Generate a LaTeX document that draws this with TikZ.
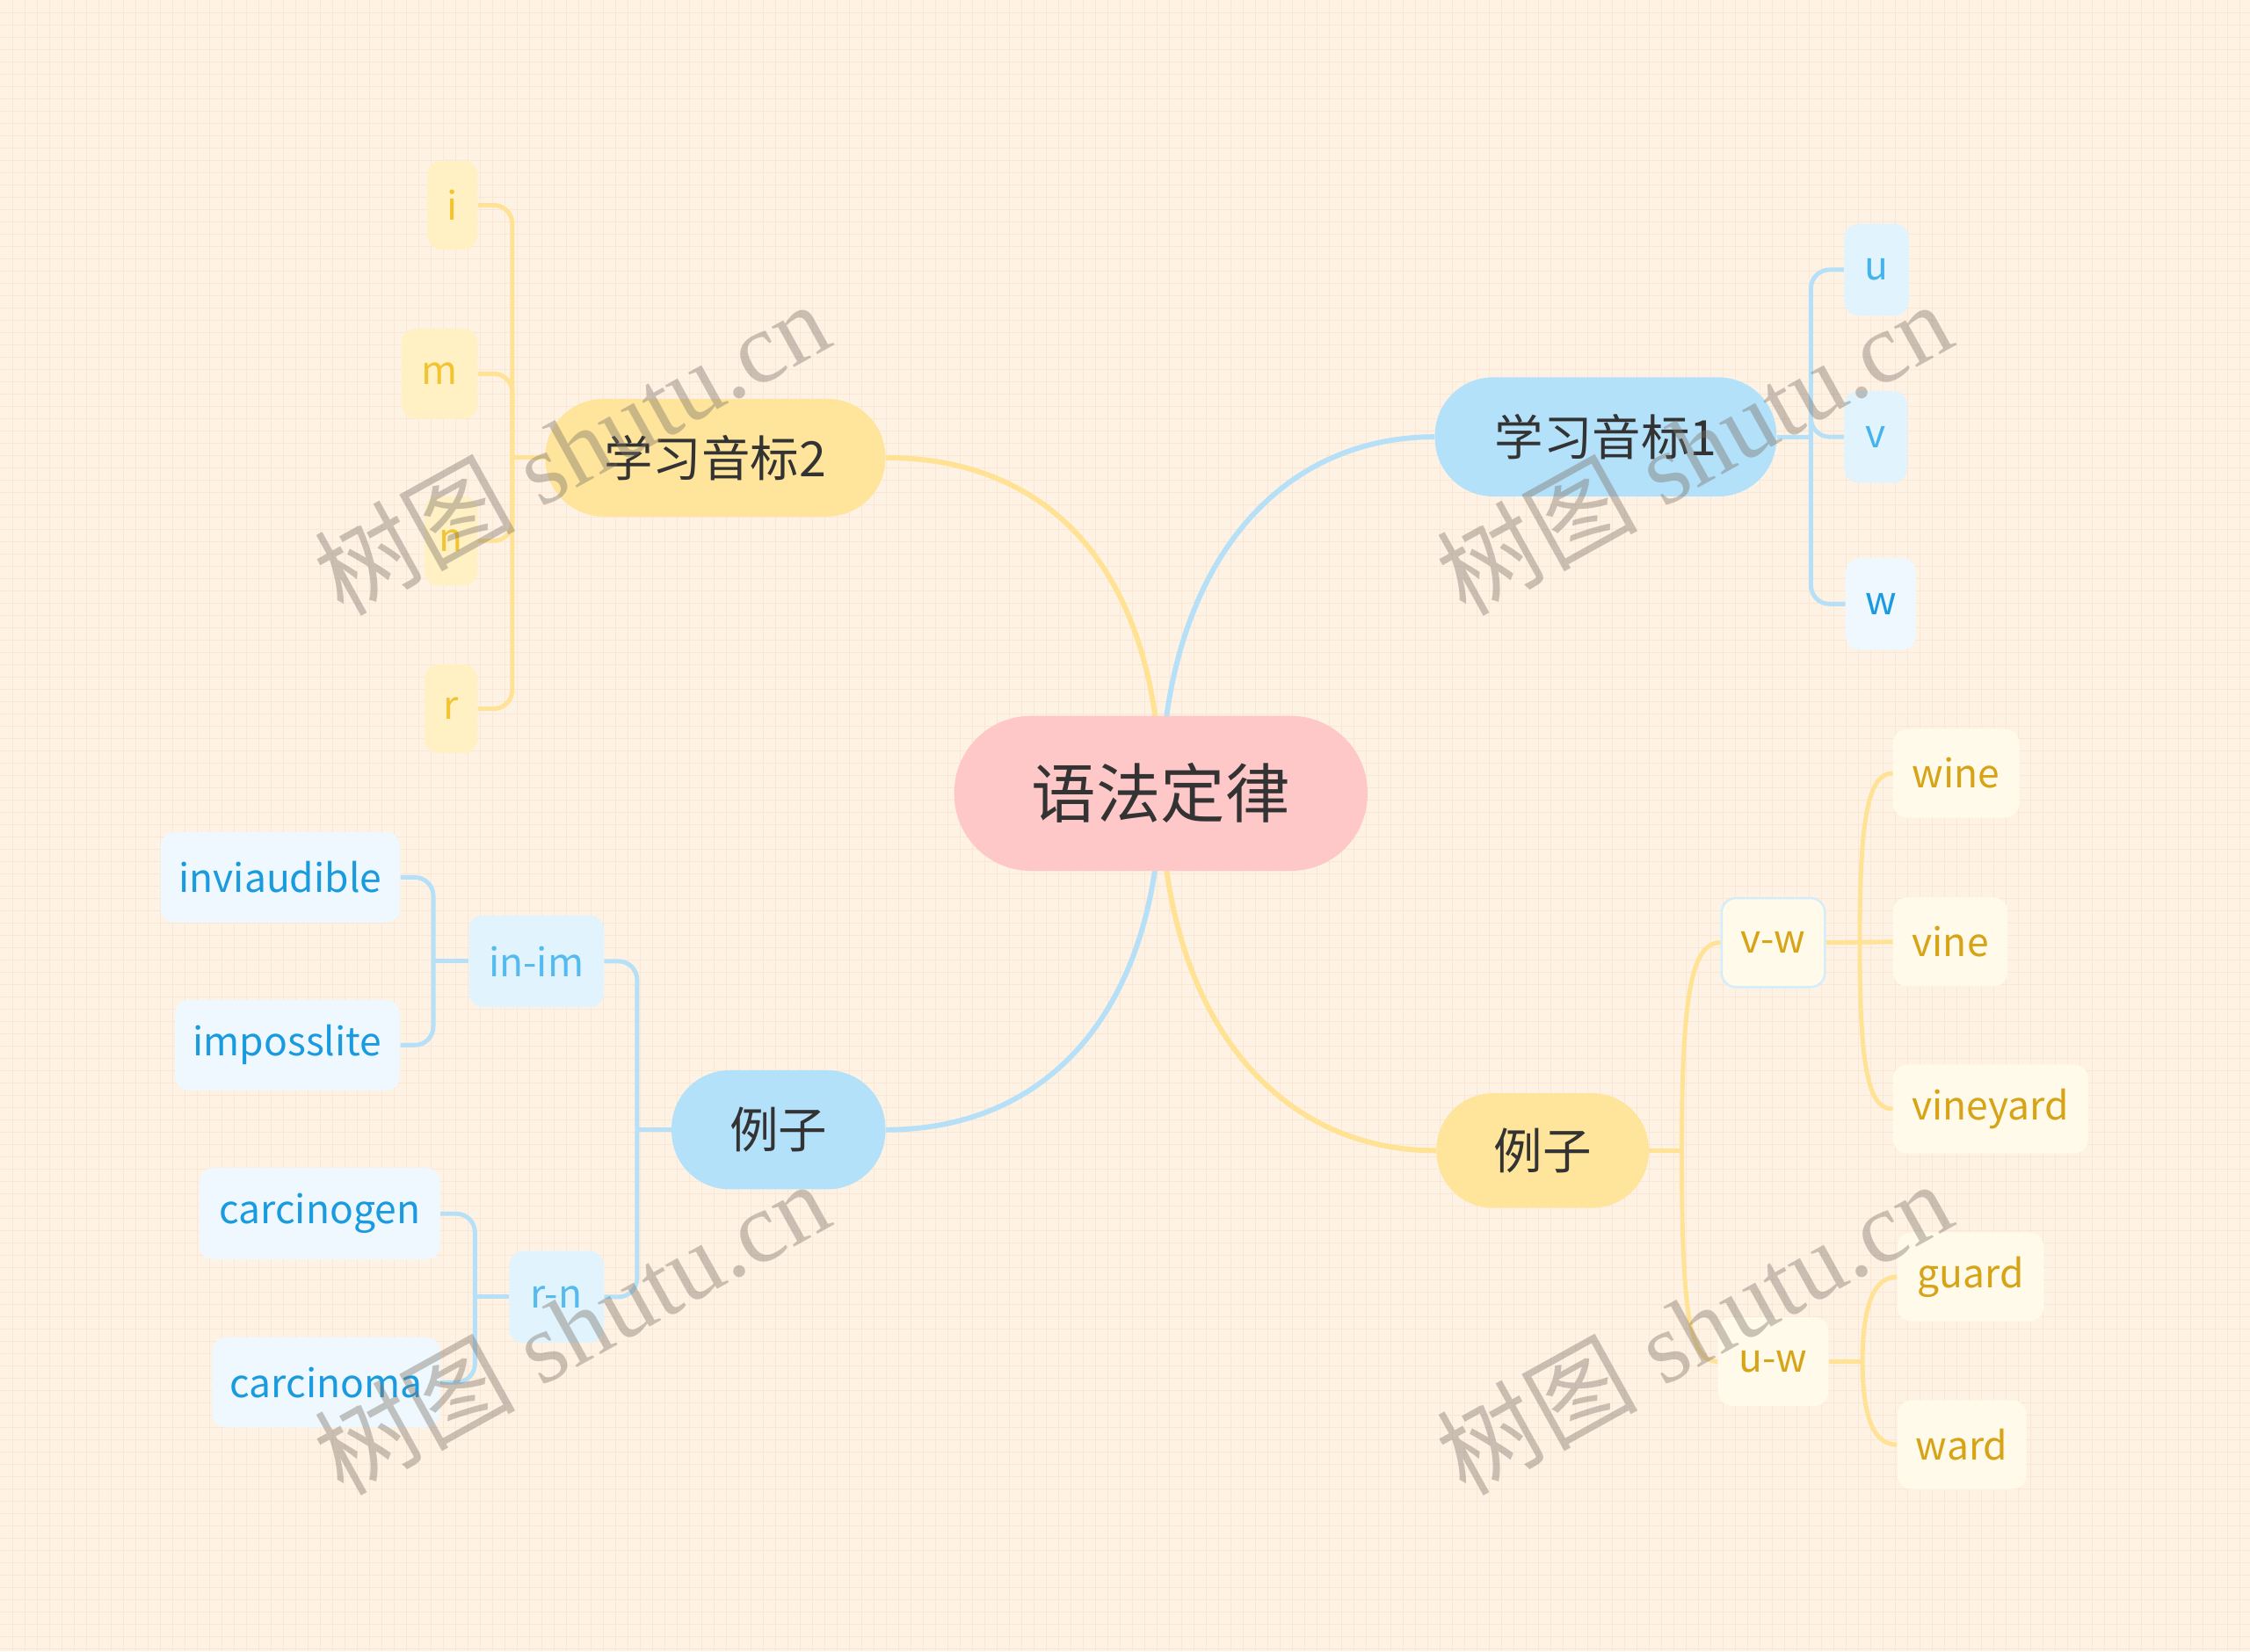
\documentclass[tikz,border=0pt]{standalone}
\usepackage{fontspec}
\setmainfont{Noto Sans CJK SC}
\newfontfamily\wmfont{Liberation Serif}
\newfontfamily\cjkfont{Noto Sans CJK SC}
\definecolor{bgc}{HTML}{FEF2E4}
\definecolor{gridc}{HTML}{F9E6D3}
\definecolor{pinkc}{HTML}{FFC8C8}
\definecolor{yelc}{HTML}{FFE59C}
\definecolor{bluec}{HTML}{B3E1FA}
\definecolor{yline}{HTML}{FFE294}
\definecolor{bline}{HTML}{B5E0F7}
\definecolor{ytxtA}{HTML}{F3C431}
\definecolor{yboxA}{HTML}{FFF1C4}
\definecolor{ytxtB}{HTML}{D6A416}
\definecolor{yboxB}{HTML}{FFFAEA}
\definecolor{btxtA}{HTML}{45B3EC}
\definecolor{bboxA}{HTML}{E1F3FD}
\definecolor{btxtB}{HTML}{1A9BE0}
\definecolor{bboxB}{HTML}{EEF8FE}
\definecolor{btxtC}{HTML}{55BBEE}
\definecolor{vwborder}{HTML}{D3EDFB}
\definecolor{darktxt}{HTML}{333333}
\definecolor{wmc}{HTML}{7A7066}
\pgfdeclarelayer{bg}
\pgfdeclarelayer{edges}
\pgfdeclarelayer{top}
\pgfsetlayers{bg,edges,main,top}
\begin{document}
\begin{tikzpicture}[x=1pt,y=-1pt,
  centralnode/.style={fill=pinkc, rounded corners=53.5pt, minimum width=288pt, minimum height=108pt, inner sep=0pt, text=darktxt, font=\fontsize{45}{54}\selectfont},
  mainnode/.style={rounded corners=40.5pt, minimum height=82pt, inner sep=0pt, text=darktxt, font=\fontsize{34}{40}\selectfont},
  leaf/.style={rounded corners=10pt, minimum height=63pt, inner sep=0pt, font=\fontsize{27.2}{33}\selectfont},
  yleafA/.style={leaf, fill=yboxA, text=ytxtA},
  yleafB/.style={leaf, fill=yboxB, text=ytxtB},
  bleafA/.style={leaf, fill=bboxA, text=btxtA},
  bleafB/.style={leaf, fill=bboxB, text=btxtB},
  bleafC/.style={leaf, fill=bboxA, text=btxtC},
  mainline/.style={line width=3.6pt},
  subline/.style={line width=3pt, rounded corners=13pt},
  curveline/.style={line width=3pt},
  watermark/.style={rotate=29, text=wmc, opacity=0.4, font=\wmfont\fontsize{70}{80}\selectfont}
]
\useasboundingbox (0,0) rectangle (1568,1151);
\begin{pgfonlayer}{bg}
  \fill[bgc] (0,0) rectangle (1568,1151);
  \foreach \i in {1,...,182} \draw[gridc, line width=0.55pt] (\i*8.575,0) -- (\i*8.575,1151);
  \foreach \j in {1,...,134} \draw[gridc, line width=0.55pt] (0,\j*8.575) -- (1568,\j*8.575);
\end{pgfonlayer}

% central and main topics
\node[centralnode] (C) at (809,553) {语法定律};
\node[mainnode, fill=yelc, minimum width=237pt] (T2) at (498.5,319) {学习音标2};
\node[mainnode, fill=bluec, minimum width=238pt, minimum height=83pt] (T1) at (1119,304.5) {学习音标1};
\node[mainnode, fill=bluec, minimum width=149pt, minimum height=83pt] (L1) at (542.5,787.5) {例子};
\node[mainnode, fill=yelc, minimum width=148pt, minimum height=80pt, rounded corners=39.5pt] (R1) at (1075,802) {例子};

% children of 学习音标2
\node[yleafA, anchor=east, minimum width=35pt, minimum height=62pt] (ni) at (333,143) {i};
\node[yleafA, anchor=east, minimum width=53pt] (nm) at (333,260.5) {m};
\node[yleafA, anchor=east, minimum width=37pt, minimum height=62pt] (nn) at (333,377) {n};
\node[yleafA, anchor=east, minimum width=37pt, minimum height=62pt] (nr) at (333,494) {r};

% children of 学习音标1
\node[bleafA, anchor=west, minimum width=45pt, minimum height=64pt] (nu) at (1285,188) {u};
\node[bleafA, anchor=west, minimum width=44pt, minimum height=64pt] (nv) at (1285,304.5) {v};
\node[bleafB, anchor=west, minimum width=49pt, minimum height=64pt, text=btxtB] (nw) at (1286,421) {w};

% left 例子
\node[bleafC, anchor=east, minimum width=94pt, minimum height=64pt] (inim) at (421,670) {in-im};
\node[bleafC, anchor=east, minimum width=66pt, minimum height=64pt] (rn) at (421,904) {r-n};
\node[bleafB, anchor=east, minimum width=167pt] (inv) at (279,611.5) {inviaudible};
\node[bleafB, anchor=east, minimum width=157pt] (imp) at (279,728.5) {imposslite};
\node[bleafB, anchor=east, minimum width=168pt, minimum height=64pt] (cgen) at (307,846) {carcinogen};
\node[bleafB, anchor=east, minimum width=159pt] (cnoma) at (307,963.5) {carcinoma};

% right 例子
\node[yleafB, anchor=west, minimum width=72pt, minimum height=62pt, draw=vwborder, line width=1.5pt] (vw) at (1199,657) {v-w};
\node[yleafB, anchor=west, minimum width=77pt, minimum height=62pt] (uw) at (1197,949) {u-w};
\node[yleafB, anchor=west, minimum width=88pt, minimum height=62pt] (wine) at (1319,539) {wine};
\node[yleafB, anchor=west, minimum width=80pt, minimum height=62pt] (vine) at (1319,656.5) {vine};
\node[yleafB, anchor=west, minimum width=136pt, minimum height=62pt] (vyard) at (1319,773) {vineyard};
\node[yleafB, anchor=west, minimum width=102pt, minimum height=62pt] (guard) at (1322,890) {guard};
\node[yleafB, anchor=west, minimum width=90pt, minimum height=62pt] (ward) at (1322,1007) {ward};

% junction coordinates
\coordinate (jT2) at (357,319);
\coordinate (jT1) at (1262,304.5);
\coordinate (jL1) at (444,787.5);
\coordinate (jin) at (302,670);
\coordinate (jrn) at (331,904);
\coordinate (jR1) at (1172,802);
\coordinate (jvw) at (1296,657);
\coordinate (juw) at (1298,949);

\begin{pgfonlayer}{edges}
  % main connectors
  \draw[mainline, yline] (T2.east) .. controls (730,319) and (807,395) .. (C.center);
  \draw[mainline, bline] (T1.west) .. controls (890,304.5) and (811,395) .. (C.center);
  \draw[mainline, bline] (L1.east) .. controls (730,787.5) and (807,705) .. (C.center);
  \draw[mainline, yline] (R1.west) .. controls (890,802) and (811,710) .. (C.center);

  % 学习音标2 bracket
  \draw[subline, yline] (T2.west) -- (jT2);
  \foreach \n in {ni,nm,nn,nr} \draw[subline, yline] (\n.east) -| (jT2);
  % 学习音标1 bracket
  \draw[subline, bline] (T1.east) -- (jT1);
  \foreach \n in {nu,nv,nw} \draw[subline, bline] (\n.west) -| (jT1);
  % left 例子
  \draw[subline, bline] (L1.west) -- (jL1);
  \foreach \n in {inim,rn} \draw[subline, bline] (\n.east) -| (jL1);
  \draw[subline, bline] (inim.west) -- (jin);
  \foreach \n in {inv,imp} \draw[subline, bline] (\n.east) -| (jin);
  \draw[subline, bline] (rn.west) -- (jrn);
  \foreach \n in {cgen,cnoma} \draw[subline, bline] (\n.east) -| (jrn);
  % right 例子 (curved)
  \draw[curveline, yline] (R1.east) -- (jR1);
  \draw[curveline, yline] (jR1) .. controls +(0,-110) and +(-20,0) .. (vw.west);
  \draw[curveline, yline] (jR1) .. controls +(0,112) and +(-20,0) .. (uw.west);
  \draw[curveline, yline] (vw.east) -- (vine.west);
  \draw[curveline, yline] (jvw) .. controls +(0,-88) and +(-17,0) .. (wine.west);
  \draw[curveline, yline] (jvw) .. controls +(0,88) and +(-17,0) .. (vyard.west);
  \draw[curveline, yline] (uw.east) -- (juw);
  \draw[curveline, yline] (juw) .. controls +(0,-42) and +(-15,0) .. (guard.west);
  \draw[curveline, yline] (juw) .. controls +(0,42) and +(-15,0) .. (ward.west);
\end{pgfonlayer}

\begin{pgfonlayer}{top}
  \node[watermark] (wm1) at (398,312) {{\cjkfont 树图} shutu.cn};
  \node[watermark] (wm2) at (1180,312) {{\cjkfont 树图} shutu.cn};
  \node[watermark] (wm3) at (398,925) {{\cjkfont 树图} shutu.cn};
  \node[watermark] (wm4) at (1180,925) {{\cjkfont 树图} shutu.cn};
\end{pgfonlayer}
\end{tikzpicture}
\end{document}
